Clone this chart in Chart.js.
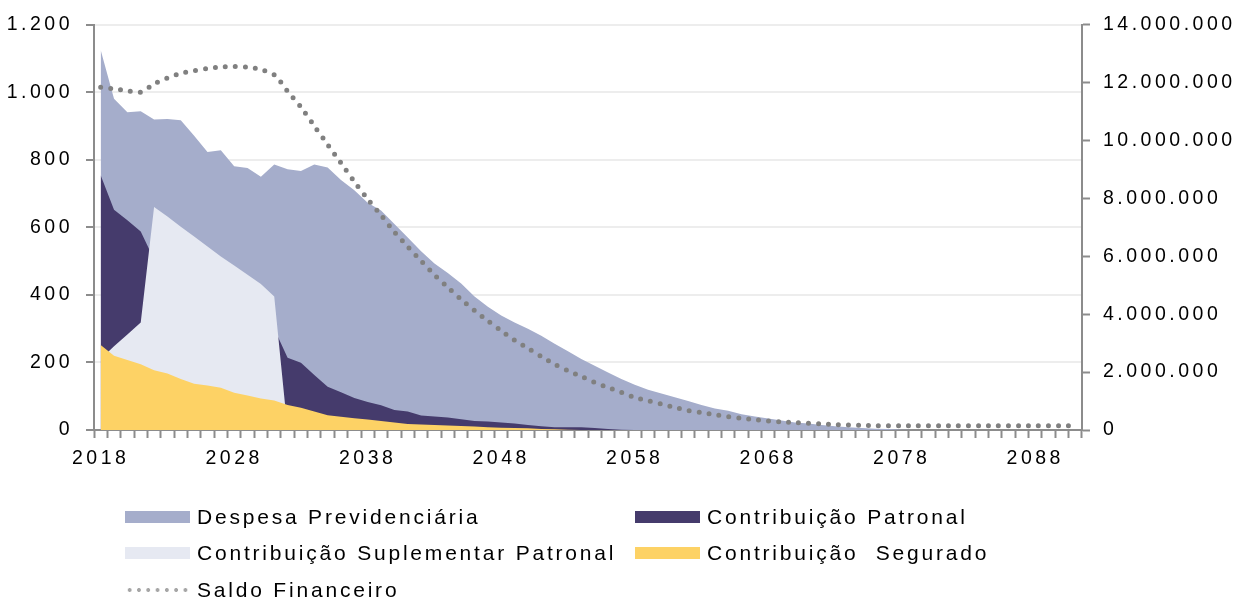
<!DOCTYPE html>
<html>
<head>
<meta charset="utf-8">
<script src="https://cdn.jsdelivr.net/npm/chart.js@4.4.1/dist/chart.umd.min.js"></script>
<style>
  body { margin: 0; background: #fff; }
  #wrap { position: relative; width: 1256px; height: 601px; }
  #canvas { position: absolute; left: 0; top: 0; }
  .item {
    position: absolute; display: flex; align-items: center; height: 24px;
    font-family: "Liberation Sans", Arial, sans-serif; font-size: 21px;
    letter-spacing: 2.8px; color: #000; white-space: nowrap;
  }
  .sw { display: inline-block; width: 65px; height: 12px; margin-right: 7px; }
  .dots {
    height: 6px;
    background-image: radial-gradient(circle, #a6a6a6 1.7px, transparent 2.2px);
    background-size: 9.3px 6px; background-repeat: repeat-x;
  }
</style>
</head>
<body>
<div id="wrap">
  <canvas id="canvas" width="1256" height="601"></canvas>
  <div class="item" style="left:125px;top:505px"><span class="sw" style="background:#a5adcb"></span>Despesa Previdenciária</div>
  <div class="item" style="left:635px;top:505px"><span class="sw" style="background:#453b6c"></span>Contribuição Patronal</div>
  <div class="item" style="left:125px;top:541px"><span class="sw" style="background:#e6e9f2"></span>Contribuição Suplementar Patronal</div>
  <div class="item" style="left:635px;top:541px"><span class="sw" style="background:#fdd265"></span>Contribuição&nbsp; Segurado</div>
  <div class="item" style="left:125px;top:578px"><span class="sw dots"></span>Saldo Financeiro</div>
</div>
<script>
var firstYear = 2018;
var lastYear = 2091;
var years = [];
for (var y = firstYear; y <= lastYear; y++) years.push(String(y));

var despesa = [1125, 981, 941, 944, 919, 921, 917, 871, 823, 828,
    781, 776, 750, 786, 772, 767, 786, 777, 740, 710,
    673, 650, 610, 570, 529, 493, 465, 434, 395, 365,
    339, 318, 300, 279, 255, 233, 210, 190, 170, 151,
    134, 119, 108, 97, 86, 74, 64, 57, 47, 40,
    34, 28, 22, 19, 15, 11, 8, 6, 4, 3,
    1, 0, 0, 0, 0, 0, 0, 0, 0, 0,
    0, 0, 0, 0];

var patronal = [754, 652, 621, 588, 505, 480, 458, 436, 414, 392,
    370, 350, 325, 300, 214, 199, 163, 128, 112, 95,
    83, 73, 59, 55, 43, 40, 37, 32, 27, 25,
    22, 19, 15, 11, 8, 8, 8, 6, 3, 1,
    0, 0, 0, 0, 0, 0, 0, 0, 0, 0,
    0, 0, 0, 0, 0, 0, 0, 0, 0, 0,
    0, 0, 0, 0, 0, 0, 0, 0, 0, 0,
    0, 0, 0, 0];

var suplementar = [210, 248, 283, 318, 660, 632, 602, 573, 543, 514,
    487, 460, 432, 395, 0, 0, 0, 0, 0, 0,
    0, 0, 0, 0, 0, 0, 0, 0, 0, 0,
    0, 0, 0, 0, 0, 0, 0, 0, 0, 0,
    0, 0, 0, 0, 0, 0, 0, 0, 0, 0,
    0, 0, 0, 0, 0, 0, 0, 0, 0, 0,
    0, 0, 0, 0, 0, 0, 0, 0, 0, 0,
    0, 0, 0, 0];

var segurado = [252, 220, 207, 195, 177, 167, 151, 137, 132, 125,
    110, 102, 93, 87, 74, 66, 55, 44, 39, 35,
    31, 27, 22, 18, 16, 15, 13, 12, 10, 8,
    7, 6, 5, 3, 2, 1, 0, 0, 0, 0,
    0, 0, 0, 0, 0, 0, 0, 0, 0, 0,
    0, 0, 0, 0, 0, 0, 0, 0, 0, 0,
    0, 0, 0, 0, 0, 0, 0, 0, 0, 0,
    0, 0, 0, 0];

var saldo = [11840000, 11780000, 11720000, 11670000, 11950000, 12160000, 12320000, 12410000, 12490000, 12540000,
    12560000, 12530000, 12450000, 12270000, 11700000, 11150000, 10500000, 9860000, 9220000, 8580000,
    7980000, 7420000, 6840000, 6330000, 5840000, 5360000, 4930000, 4510000, 4130000, 3770000,
    3430000, 3100000, 2820000, 2540000, 2270000, 2050000, 1850000, 1640000, 1470000, 1300000,
    1120000, 1010000, 900000, 780000, 670000, 600000, 530000, 460000, 400000, 360000,
    310000, 280000, 260000, 230000, 210000, 190000, 170000, 160000, 150000, 150000,
    150000, 150000, 150000, 150000, 150000, 150000, 150000, 150000, 150000, 150000,
    150000, 150000, 150000, 150000];

var leftTicks = [0, 200, 400, 600, 800, 1000, 1200];
var rightTicks = [0, 2000000, 4000000, 6000000, 8000000, 10000000, 12000000, 14000000];

function fmt(v) {
    return String(v).replace(/\B(?=(\d{3})+(?!\d))/g, '.');
}

Chart.defaults.font.family = '"Liberation Sans", Arial, sans-serif';
Chart.defaults.font.size = 19.5;
Chart.defaults.color = '#000';

var spacing = {
    id: 'spacing',
    beforeUpdate: function(chart) { chart.ctx.letterSpacing = '3.5px'; },
    beforeDraw: function(chart) { chart.ctx.letterSpacing = '3.5px'; }
};

function area(label, data, color, order) {
    return {
        label: label,
        data: data,
        backgroundColor: color,
        borderWidth: 0,
        pointRadius: 0,
        fill: 'origin',
        tension: 0,
        yAxisID: 'y',
        order: order
    };
}

var axisColor = '#8c8c8c';

var config = {
    type: 'line',
    data: {
        labels: years,
        datasets: [
            area('Despesa Previdenciária', despesa, '#a5adcb', 4),
            area('Contribuição Patronal', patronal, '#453b6c', 3),
            area('Contribuição Suplementar Patronal', suplementar, '#e6e9f2', 2),
            area('Contribuição Segurado', segurado, '#fdd265', 1),
            {
                label: 'Saldo Financeiro',
                data: saldo,
                yAxisID: 'y1',
                borderColor: '#808080',
                borderWidth: 5,
                borderDash: [0, 10],
                borderCapStyle: 'round',
                pointRadius: 0,
                fill: false,
                tension: 0.3,
                order: 0
            }
        ]
    },
    options: {
        responsive: false,
        animation: false,
        layout: { padding: { top: 24, left: 0, right: 0, bottom: 0 } },
        plugins: {
            legend: { display: false },
            tooltip: { enabled: false }
        },
        scales: {
            x: {
                offset: true,
                grid: {
                    offset: true,
                    drawOnChartArea: false,
                    tickLength: 8,
                    tickWidth: 2,
                    tickColor: axisColor
                },
                border: { color: axisColor, width: 2 },
                ticks: {
                    autoSkip: false,
                    maxRotation: 0,
                    padding: 9,
                    callback: function(value, index) {
                        return (index % 10 === 0) ? years[index] : '';
                    }
                },
                afterFit: function(scale) { scale.height = 171; }
            },
            y: {
                position: 'left',
                min: 0,
                max: 1200,
                afterBuildTicks: function(scale) {
                    scale.ticks = leftTicks.map(function(v) { return { value: v }; });
                },
                grid: {
                    color: '#ededed',
                    lineWidth: 2,
                    tickLength: 8,
                    tickWidth: 2,
                    tickColor: axisColor
                },
                border: { color: axisColor, width: 2 },
                ticks: {
                    padding: 13,
                    callback: function(v) { return fmt(v); }
                },
                afterFit: function(scale) { scale.width = 94; }
            },
            y1: {
                position: 'right',
                min: 0,
                max: 14000000,
                afterBuildTicks: function(scale) {
                    scale.ticks = rightTicks.map(function(v) { return { value: v }; });
                },
                grid: {
                    drawOnChartArea: false,
                    tickLength: 8,
                    tickWidth: 2,
                    tickColor: axisColor
                },
                border: { color: axisColor, width: 2 },
                ticks: {
                    padding: 13,
                    callback: function(v) { return fmt(v); }
                },
                afterFit: function(scale) { scale.width = 174; }
            }
        }
    },
    plugins: [spacing]
};

window.onload = function() {
    window.myChart = new Chart(document.getElementById('canvas'), config);
};
</script>
</body>
</html>
